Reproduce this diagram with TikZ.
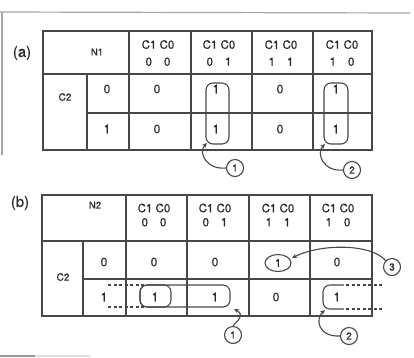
\documentclass[tikz,border=0pt]{standalone}
\usepackage{fontspec}
\setmainfont{TeX Gyre Heros}
\newfontfamily\scanfont{TeX Gyre Heros}[FakeBold=0.6]
\usetikzlibrary{arrows.meta,shapes.geometric}
\definecolor{linegray}{HTML}{484848}
\definecolor{inkgray}{HTML}{2A2A2A}
\newcommand{\kmhead}[2]{C1 C0\\#1\hspace{12pt}#2}
\tikzset{
	kmline/.style={draw=linegray, line width=1.2pt},
	cell/.style={text=inkgray, font=\scanfont\fontsize{12}{13}\selectfont, inner sep=0pt},
	headcell/.style={text=inkgray, align=center, inner sep=0pt},
	loopbox/.style={draw=linegray, line width=1.1pt, rounded corners=7pt},
	wrapline/.style={draw=linegray, line width=1.1pt, dash pattern=on 3pt off 2.5pt},
	tag/.style={circle, draw=linegray, line width=1.1pt, minimum size=17pt, inner sep=0pt, text=inkgray, font=\scanfont\fontsize{10}{11}\selectfont},
	pointer/.style={draw=linegray, line width=1.1pt, -{Stealth[length=5pt,width=4.5pt]}},
}
\begin{document}
\begin{tikzpicture}[x=1pt, y=-1pt]
		\useasboundingbox (0,0) rectangle (414,357);
		% page edges of the scan
		\draw[gray!70, line width=1.2pt] (0,12) -- (410,13);
		\draw[gray!70, line width=1.2pt] (2,12) -- (2,155);
		\draw[gray!80, line width=1.4pt] (0,356) -- (35,356);
		\draw[gray!25, line width=1.4pt] (35,356) -- (90,356);
		%
		% ---------- (a) ----------
		\draw[kmline] (43,31) rectangle (372,150);
		\draw[kmline] (43,74) -- (372,74);
		\draw[kmline] (87,113) -- (372,113);
		\draw[kmline] (87,74) -- (87,150);
		\foreach \x in {129,191,252,313}
			\draw[kmline] (\x,31) -- (\x,150);
		\node[text=inkgray, font=\scanfont\fontsize{15}{17}\selectfont] (lab-a) at (22,53) {(a)};
		\node[cell, font=\scanfont\fontsize{9.5}{10}\selectfont] (n1) at (97,52) {N1};
		\node[cell, font=\scanfont\fontsize{10}{11}\selectfont] (c2-a) at (65,97) {C2};
		\node[headcell, font=\scanfont\fontsize{11.5}{17}\selectfont] (ha00) at (158,53) {\kmhead{0}{0}};
		\node[headcell, font=\scanfont\fontsize{11.5}{17}\selectfont] (ha01) at (219,53) {\kmhead{0}{1}};
		\node[headcell, font=\scanfont\fontsize{11.5}{17}\selectfont] (ha11) at (281,53) {\kmhead{1}{1}};
		\node[headcell, font=\scanfont\fontsize{11.5}{17}\selectfont] (ha10) at (342,53) {\kmhead{1}{0}};
		\node[cell] (ra0) at (107,89) {0};
		\node[cell] (ra1) at (107,129) {1};
		\node[cell] (a00) at (157,89) {0};
		\node[cell] (a01) at (216,89) {1};
		\node[cell] (a11) at (280,89) {0};
		\node[cell] (a10) at (336,89) {1};
		\node[cell] (a00b) at (157,129) {0};
		\node[cell] (a01b) at (216,129) {1};
		\node[cell] (a11b) at (280,129) {0};
		\node[cell] (a10b) at (336,129) {1};
		\draw[loopbox] (206,83) rectangle (229,144);
		\draw[loopbox] (324,83) rectangle (348,144);
		\node[tag] (ta1) at (235,168) {1};
		\node[tag] (ta2) at (352,170) {2};
		\coordinate (aa1) at (207,143);
		\coordinate (aa2) at (325,144);
		\draw[pointer] (ta1.west) .. controls (206,170) and (198,152) .. (aa1);
		\draw[pointer] (ta2.west) .. controls (323,172) and (316,153) .. (aa2);
		%
		% ---------- (b) ----------
		\draw[kmline] (42,195) rectangle (372,316);
		\draw[kmline] (42,241) -- (372,241);
		\draw[kmline] (83,279) -- (372,279);
		\draw[kmline] (83,241) -- (83,316);
		\foreach \x in {126,187,249,310}
			\draw[kmline] (\x,195) -- (\x,316);
		\node[text=inkgray, font=\scanfont\fontsize{15}{17}\selectfont] (lab-b) at (20,203) {(b)};
		\node[cell, font=\scanfont\fontsize{9.5}{10}\selectfont] (n2) at (95,205) {N2};
		\node[cell, font=\scanfont\fontsize{10}{11}\selectfont] (c2-b) at (63,277) {C2};
		\node[headcell, font=\scanfont\fontsize{11.5}{14}\selectfont] (hb00) at (154,215) {\kmhead{0}{0}};
		\node[headcell, font=\scanfont\fontsize{11.5}{14}\selectfont] (hb01) at (215,215) {\kmhead{0}{1}};
		\node[headcell, font=\scanfont\fontsize{11.5}{14}\selectfont] (hb11) at (278,215) {\kmhead{1}{1}};
		\node[headcell, font=\scanfont\fontsize{11.5}{14}\selectfont] (hb10) at (338,215) {\kmhead{1}{0}};
		\node[cell] (rb0) at (104,262) {0};
		\node[cell] (rb1) at (104,297) {1};
		\node[cell] (b00) at (154,262) {0};
		\node[cell] (b01) at (215,262) {0};
		\node[tag, ellipse, minimum width=26pt, minimum height=17pt, font=\scanfont\fontsize{11}{12}\selectfont] (b11) at (278,263) {1};
		\node[cell] (b10) at (337,262) {0};
		\node[cell] (b00b) at (155,297) {1};
		\node[cell] (b01b) at (215,297) {1};
		\node[cell] (b11b) at (276,297) {0};
		\node[cell] (b10b) at (337,297) {1};
		\draw[loopbox] (140,285) rectangle (171,307);
		\draw[loopbox] (140,285) rectangle (230,307);
		\draw[loopbox] (344,285) -- (323,285) -- (323,309) -- (344,309);
		\draw[wrapline] (108,285) -- (146,285);
		\draw[wrapline] (108,307) -- (146,307);
		\draw[wrapline] (346,285) -- (383,285);
		\draw[wrapline] (346,309) -- (383,309);
		\node[tag] (tb1) at (233,335) {1};
		\node[tag] (tb2) at (349,336) {2};
		\node[tag] (tb3) at (392,267) {3};
		\coordinate (ab1) at (234,309);
		\coordinate (ab2) at (325,310);
		\coordinate (ab3) at (292,258);
		\draw[pointer] (tb1.north) .. controls (238,320) and (245,315) .. (ab1);
		\draw[pointer] (tb2.west) .. controls (318,337) and (315,319) .. (ab2);
		\draw[pointer] (tb3.north west) .. controls (372,244) and (322,243) .. (ab3);
\end{tikzpicture}
\end{document}
